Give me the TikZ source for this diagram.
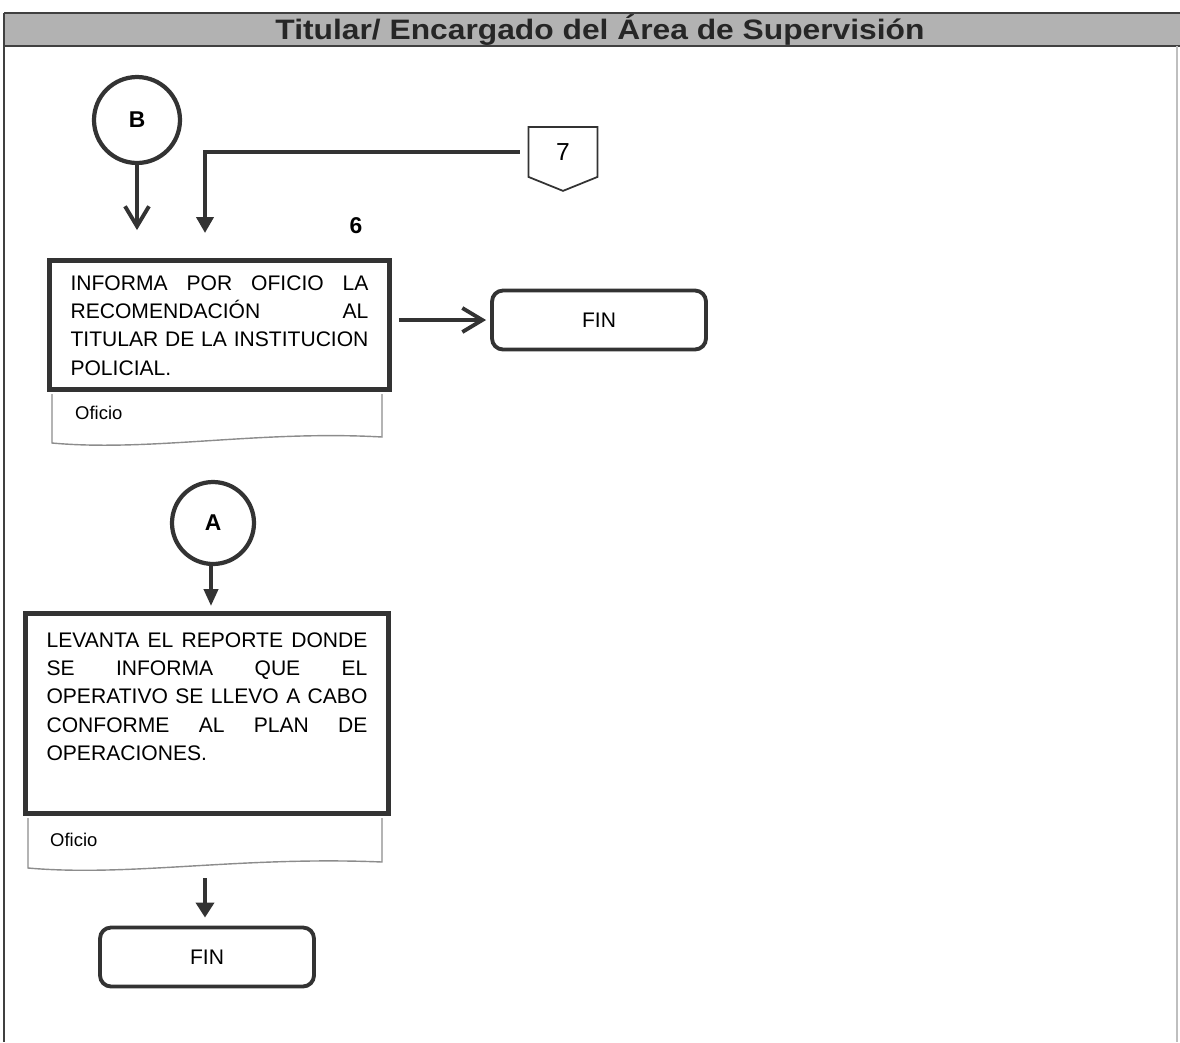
\documentclass[tikz,border=0pt]{standalone}
\usepackage{fontspec}
\setmainfont{Liberation Sans}
\usetikzlibrary{positioning,arrows.meta,shapes.symbols}
\newcommand{\bloque}[3]{\begin{minipage}[c][#2][t]{#1}\fontsize{12}{16}\selectfont#3\end{minipage}}
\newcommand{\linea}[1]{\makebox[\linewidth][s]{#1}\\}

\begin{document}
\begin{tikzpicture}[x=0.02cm,y=-0.02cm,
  conector/.style={circle,draw=black!80,line width=2.4pt,minimum size=1.72cm,inner sep=0pt,font=\bfseries\fontsize{13}{13}\selectfont},
  proceso/.style={draw=black!80,line width=2.8pt,inner xsep=0.42cm,inner ysep=0.31cm},
  fin/.style={draw=black!80,line width=2.2pt,rounded corners=0.22cm,minimum width=4.28cm,minimum height=1.18cm,font=\fontsize{12}{12}\selectfont},
  documento/.style={draw=black!45,line width=0.8pt},
  flecha/.style={draw=black!80,line width=2.2pt,-{Triangle[length=0.32cm,width=0.34cm]}},
  flechab/.style={draw=black!80,line width=2.2pt,-{Straight Barb[length=0.4cm,width=0.48cm,line width=2.2pt]}}]
\useasboundingbox (0,0) rectangle (1180,1042);
\fill[black!30] (4,13) rectangle (1180,46);
\draw[black!75,line width=1.2pt] (4,13) -- (1180,13) (4,46) -- (1180,46);
\draw[black!75,line width=1.2pt] (4,13) -- (4,1042);
\draw[black!25,line width=0.8pt] (1177,46) -- (1177,1042);
\node[font=\bfseries\fontsize{16}{17}\selectfont,text=black!85] (titulo) at (600,30) {\scalebox{1.13}[1]{Titular/ Encargado del Área de Supervisión}};

\node[conector] (B) at (137,120) {B};
\coordinate (Bfin) at (137,230);
\draw[flechab] (B) -- (Bfin);

\node[signal,signal to=south,signal from=nowhere,draw=black!80,line width=1pt,minimum width=1.38cm,minimum height=1.1cm,signal pointer angle=136,font=\fontsize{14}{14}\selectfont] (c7) at (563,152) {7};
\coordinate (p7) at (205,233);
\draw[flecha] ([xshift=-0.16cm]c7.west |- 0,152) -| (p7);

\node[font=\bfseries\fontsize{13}{13}\selectfont] (n6) at (356,226) {6};

\node[proceso] (caja1) at (219.5,325) {\bloque{5.96cm}{1.96cm}{%
\linea{INFORMA POR OFICIO LA}
\linea{RECOMENDACIÓN AL}
\linea{TITULAR DE LA INSTITUCION}
POLICIAL.}};
\draw[documento] (52,394) -- (52,443) .. controls (150,452) and (260,430) .. (382,437) -- (382,394);
\node[anchor=west,font=\fontsize{10.5}{11}\selectfont] (of1) at (69,413) {Oficio};

\node[fin] (fin1) at (599,320) {FIN};
\draw[flechab] ([xshift=0.14cm]caja1.east |- fin1.west) -- ([xshift=-0.08cm]fin1.west);

\node[conector,minimum size=1.64cm] (A) at (213,523) {A};
\node[proceso,inner ysep=0.39cm] (caja2) at (207,713.5) {\bloque{6.42cm}{3.22cm}{%
\linea{LEVANTA EL REPORTE DONDE}
\linea{SE INFORMA QUE EL}
\linea{OPERATIVO SE LLEVO A CABO}
\linea{CONFORME AL PLAN DE}
OPERACIONES.}};
\draw[flecha,-{Triangle[length=0.34cm,width=0.28cm]}] (A.south -| 211,0) -- ([yshift=0.1cm]caja2.north -| 211,0);
\draw[documento] (28,818) -- (28,868) .. controls (130,877) and (240,856) .. (382,862) -- (382,818);
\node[anchor=west,font=\fontsize{10.5}{11}\selectfont] (of2) at (44,840) {Oficio};

\node[fin] (fin2) at (207,957) {FIN};
\coordinate (doc2) at (205,878);
\draw[flecha,-{Triangle[length=0.3cm,width=0.36cm]}] (doc2) -- ([yshift=0.16cm]doc2 |- fin2.north);
\end{tikzpicture}
\end{document}
